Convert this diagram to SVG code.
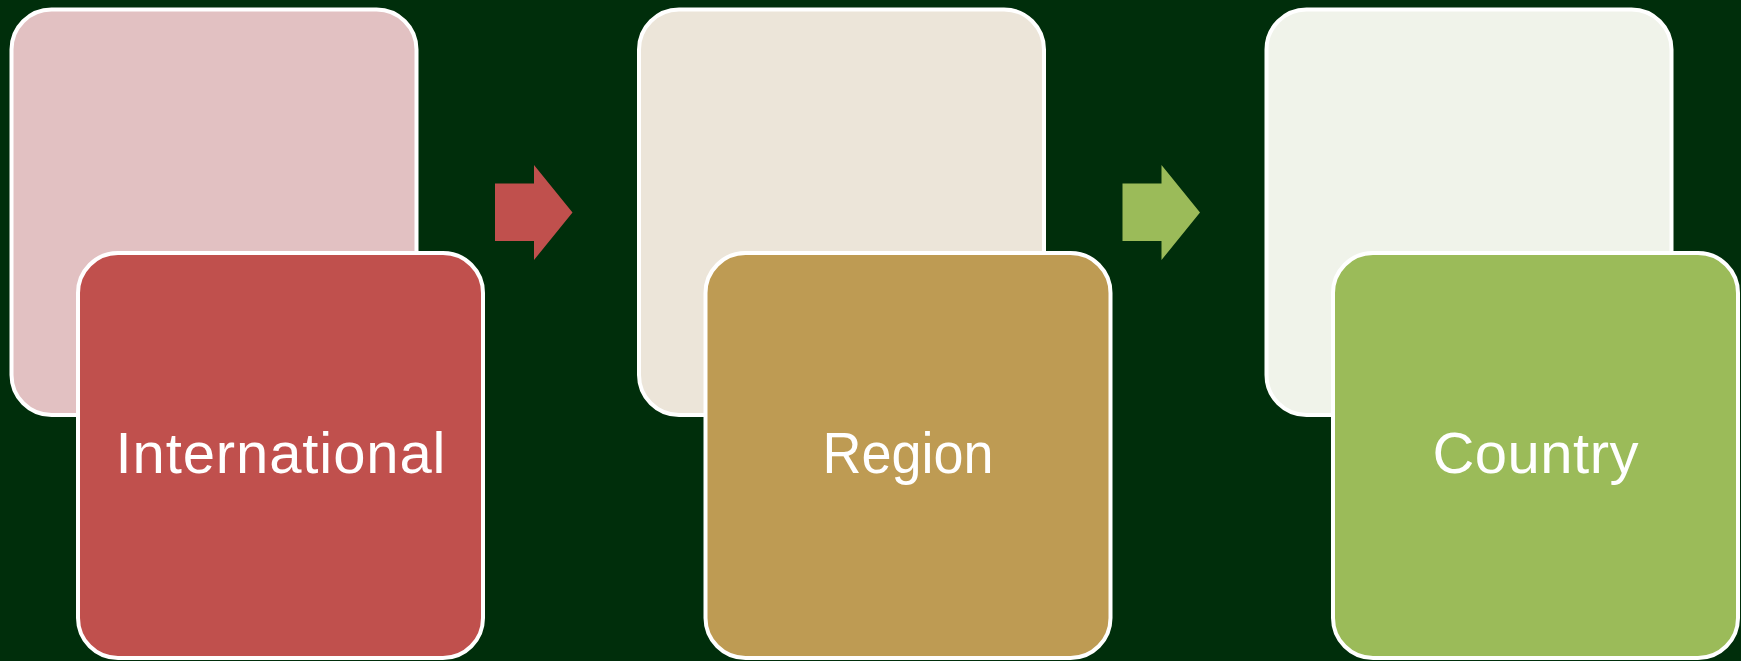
<svg xmlns="http://www.w3.org/2000/svg" width="1741" height="661" viewBox="0 0 1741 661">
<style>
.box{stroke:#FFFFFF;stroke-width:4}
.lbl{font-family:"Liberation Sans",Arial,sans-serif;font-size:58px;fill:#FFFFFF;text-anchor:middle}
</style>
<rect width="1741" height="661" fill="#002E0B"/>
<g id="connectors">
<path d="M495 183.5H534V165L572.5 212.5L534 260V241H495Z" fill="#C0504D"/>
<path d="M1122.5 183.5H1161.5V165L1200 212.5L1161.5 260V241H1122.5Z" fill="#9BBB59"/>
</g>
<g id="node-international">
<rect class="box" x="11.5" y="9.5" width="405" height="405.5" rx="40" fill="#E2C1C2"/>
<rect class="box" x="78" y="253" width="405" height="405" rx="40" fill="#C0504D"/>
<text class="lbl" x="280.5" y="473" textLength="330" lengthAdjust="spacing">International</text>
</g>
<g id="node-region">
<rect class="box" x="639" y="9.5" width="405" height="405.5" rx="40" fill="#ECE5D9"/>
<rect class="box" x="705.5" y="253" width="405" height="405" rx="40" fill="#BE9B53"/>
<text class="lbl" x="908" y="473" textLength="171" lengthAdjust="spacingAndGlyphs">Region</text>
</g>
<g id="node-country">
<rect class="box" x="1266.5" y="9.5" width="405" height="405.5" rx="40" fill="#F0F3EA"/>
<rect class="box" x="1333" y="253" width="405" height="405" rx="40" fill="#9BBB59"/>
<text class="lbl" x="1535.5" y="473" textLength="206" lengthAdjust="spacing">Country</text>
</g>
</svg>
